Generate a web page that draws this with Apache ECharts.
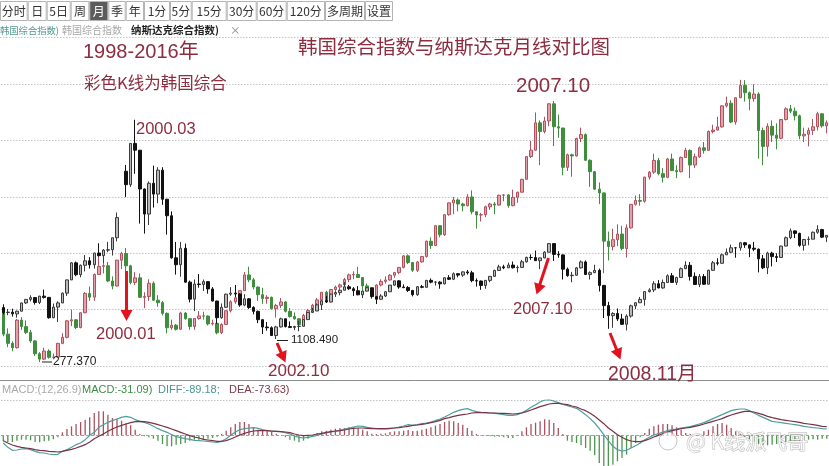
<!DOCTYPE html>
<html>
<head>
<meta charset="utf-8">
<script src="https://cdn.jsdelivr.net/npm/echarts@6/dist/echarts.min.js"></script>
<style>
html,body{margin:0;padding:0;background:#fff;}
#c{width:829px;height:466px;}
</style>
</head>
<body>
<div id="c"></div>
<script>
// ---------- data ----------
const months = [
'1997.10','1997.11','1997.12',
'1998.01','1998.02','1998.03','1998.04','1998.05','1998.06','1998.07','1998.08','1998.09','1998.10','1998.11','1998.12',
'1999.01','1999.02','1999.03','1999.04','1999.05','1999.06','1999.07','1999.08','1999.09','1999.10','1999.11','1999.12',
'2000.01','2000.02','2000.03','2000.04','2000.05','2000.06','2000.07','2000.08','2000.09','2000.10','2000.11','2000.12',
'2001.01','2001.02','2001.03','2001.04','2001.05','2001.06','2001.07','2001.08','2001.09','2001.10','2001.11','2001.12',
'2002.01','2002.02','2002.03','2002.04','2002.05','2002.06','2002.07','2002.08','2002.09','2002.10','2002.11','2002.12',
'2003.01','2003.02','2003.03','2003.04','2003.05','2003.06','2003.07','2003.08','2003.09','2003.10','2003.11','2003.12',
'2004.01','2004.02','2004.03','2004.04','2004.05','2004.06','2004.07','2004.08','2004.09','2004.10','2004.11','2004.12',
'2005.01','2005.02','2005.03','2005.04','2005.05','2005.06','2005.07','2005.08','2005.09','2005.10','2005.11','2005.12',
'2006.01','2006.02','2006.03','2006.04','2006.05','2006.06','2006.07','2006.08','2006.09','2006.10','2006.11','2006.12',
'2007.01','2007.02','2007.03','2007.04','2007.05','2007.06','2007.07','2007.08','2007.09','2007.10','2007.11','2007.12',
'2008.01','2008.02','2008.03','2008.04','2008.05','2008.06','2008.07','2008.08','2008.09','2008.10','2008.11','2008.12',
'2009.01','2009.02','2009.03','2009.04','2009.05','2009.06','2009.07','2009.08','2009.09','2009.10','2009.11','2009.12',
'2010.01','2010.02','2010.03','2010.04','2010.05','2010.06','2010.07','2010.08','2010.09','2010.10','2010.11','2010.12',
'2011.01','2011.02','2011.03','2011.04','2011.05','2011.06','2011.07','2011.08','2011.09','2011.10','2011.11','2011.12',
'2012.01','2012.02','2012.03','2012.04','2012.05','2012.06','2012.07','2012.08','2012.09','2012.10','2012.11'
];

// 韩国综合指数 monthly [open, close, low, high]
const korea = [
[640,470,455,650],[470,406,380,510],[406,376,351,420],
[376,567,370,575],[567,522,500,588],[522,482,470,565],[482,423,410,500],[423,334,320,430],[334,297,277,345],[297,353,290,375],[353,310,300,365],[310,311,295,335],[311,406,305,410],[406,448,400,476],[448,562,440,568],
[562,569,525,640],[569,516,505,575],[516,618,510,620],[618,752,615,760],[752,726,700,800],[726,883,700,890],[883,939,880,1052],[939,944,890,955],[944,838,830,970],[838,803,780,870],[803,982,800,985],[982,1028,920,1040],
[1028,943,890,1066],[943,828,815,950],[828,860,810,900],[860,725,720,890],[725,731,650,760],[731,822,700,850],[822,705,700,835],[705,688,660,740],[688,614,600,700],[614,514,475,620],[514,532,500,570],[532,504,495,540],
[504,616,500,625],[616,577,570,622],[577,523,500,580],[523,578,500,580],[578,596,570,630],[596,595,570,625],[595,541,530,600],[541,545,530,570],[545,480,468,550],[480,537,470,545],[537,632,535,635],[632,694,620,705],
[694,722,680,760],[722,771,690,775],[771,880,770,900],[880,846,830,937],[846,796,780,860],[796,743,700,800],[743,717,680,790],[717,725,680,740],[725,646,640,730],[646,669,584,680],[669,693,650,720],[693,628,620,700],
[628,592,585,650],[592,576,570,620],[576,535,512,580],[535,600,530,610],[600,634,590,645],[634,670,625,680],[670,707,660,720],[707,760,695,760],[760,697,690,770],[697,779,695,780],[779,796,750,805],[796,811,770,820],
[811,848,800,860],[848,880,830,890],[880,883,850,905],[883,862,860,936],[862,804,740,865],[804,785,770,820],[785,735,720,790],[735,810,730,815],[810,835,800,850],[835,845,820,870],[845,878,840,885],[878,896,860,900],
[896,932,885,935],[932,1012,925,1016],[1012,966,955,1022],[966,912,900,970],[912,970,900,975],[970,1008,965,1010],[1008,1113,1000,1118],[1113,1084,1060,1140],[1084,1221,1080,1222],[1221,1158,1140,1222],[1158,1297,1150,1300],[1297,1379,1290,1380],
[1379,1399,1300,1420],[1399,1371,1320,1410],[1371,1359,1320,1380],[1359,1420,1355,1440],[1420,1317,1300,1465],[1317,1295,1200,1320],[1295,1297,1250,1310],[1297,1352,1280,1360],[1352,1371,1330,1380],[1371,1364,1300,1385],[1364,1432,1360,1435],[1432,1434,1390,1440],
[1434,1360,1345,1440],[1360,1417,1355,1470],[1417,1453,1380,1456],[1453,1542,1450,1545],[1542,1700,1540,1702],[1700,1744,1690,1808],[1744,1933,1740,2005],[1933,1873,1640,1950],[1873,1946,1860,1975],[1946,2065,1910,2070],[2065,1906,1772,2085],[1906,1897,1830,1990],
[1897,1625,1570,1900],[1625,1712,1600,1720],[1712,1704,1560,1720],[1704,1825,1700,1830],[1825,1852,1800,1900],[1852,1674,1670,1860],[1674,1595,1490,1680],[1595,1474,1470,1600],[1474,1448,1370,1520],[1448,1114,892,1450],[1114,1077,980,1180],[1077,1124,1050,1200],
[1124,1163,1080,1230],[1163,1063,1050,1220],[1063,1206,1000,1230],[1206,1369,1200,1370],[1369,1396,1360,1430],[1396,1390,1360,1440],[1390,1557,1380,1560],[1557,1592,1540,1600],[1592,1673,1580,1720],[1673,1581,1570,1690],[1581,1556,1520,1620],[1556,1683,1550,1690],
[1683,1602,1600,1720],[1602,1595,1550,1640],[1595,1693,1590,1700],[1693,1742,1690,1760],[1742,1641,1550,1750],[1641,1698,1620,1720],[1698,1760,1690,1770],[1760,1743,1720,1800],[1743,1873,1740,1880],[1873,1883,1860,1920],[1883,1905,1880,1975],[1905,2051,1900,2055],
[2051,2069,2040,2115],[2069,1939,1930,2090],[1939,2107,1920,2110],[2107,2192,2105,2231],[2192,2142,2080,2229],[2142,2101,2020,2150],[2101,2133,2080,2200],[2133,1880,1685,2145],[1880,1770,1640,1900],[1770,1909,1700,1930],[1909,1848,1800,1950],[1848,1826,1750,1930],
[1826,1956,1820,1960],[1956,2030,1950,2040],[2030,2014,2000,2057],[2014,1982,1950,2040],[1982,1843,1820,1990],[1843,1854,1800,1900],[1854,1881,1770,1900],[1881,1906,1850,1960],[1906,1996,1880,2010],[1996,1912,1900,2000],[1912,1933,1860,1950]
];

// 纳斯达克综合指数 monthly [open, close, low, high]
const nasdaq = [
[1685,1594,1560,1745],[1594,1601,1545,1660],[1601,1570,1520,1665],
[1570,1619,1500,1630],[1619,1771,1615,1775],[1771,1835,1750,1840],[1835,1868,1800,1910],[1868,1779,1740,1880],[1779,1895,1750,1900],[1895,1872,1850,2015],[1872,1499,1480,1880],[1499,1694,1490,1760],[1694,1771,1420,1800],[1771,1950,1765,1960],[1950,2193,1900,2200],
[2193,2506,2190,2520],[2506,2288,2260,2530],[2288,2461,2240,2475],[2461,2543,2350,2650],[2543,2471,2400,2610],[2471,2686,2400,2690],[2686,2638,2620,2865],[2638,2739,2490,2760],[2739,2746,2700,2890],[2746,2966,2640,2970],[2966,3336,2900,3430],'-',
[4186,3940,3712,4303],[3940,4697,3900,4700],[4697,4573,4140,5132],[4573,3861,3227,4575],[3861,3401,3042,3870],[3401,3966,3200,4000],[3966,3767,3520,4290],[3767,4206,3600,4260],[4206,3673,3570,4260],[3673,3370,3025,3680],[3370,2598,2580,3450],[2598,2471,2290,2890],
[2471,2773,2250,2890],[2773,2152,2140,2860],[2152,1840,1780,2180],[1840,2116,1620,2200],[2116,2110,2050,2300],[2110,2161,1990,2200],[2161,2027,1940,2170],[2027,1805,1800,2060],[1805,1499,1387,1810],[1499,1690,1480,1760],[1690,1931,1680,1940],[1931,1950,1900,2060],
[1950,1934,1880,2100],[1934,1731,1700,1950],[1731,1845,1710,1930],[1845,1688,1660,1860],[1688,1616,1560,1710],[1616,1463,1400,1630],[1463,1328,1200,1470],[1328,1315,1260,1420],[1315,1172,1170,1340],[1172,1330,1108,1350],[1330,1479,1320,1500],[1479,1336,1320,1480],
[1336,1321,1310,1430],[1321,1338,1270,1350],[1338,1341,1250,1440],[1341,1464,1340,1470],[1464,1596,1460,1600],[1596,1623,1590,1680],[1623,1735,1620,1760],[1735,1810,1640,1815],[1810,1787,1770,1900],[1787,1932,1780,1940],[1932,1960,1880,1980],[1960,2003,1910,2010],
[2003,2066,2000,2155],[2066,2030,2010,2100],[2030,1994,1900,2060],[1994,1920,1910,2080],[1920,1987,1860,1990],[1987,2048,1980,2060],[2048,1887,1850,2050],[1887,1838,1750,1890],[1838,1897,1830,1930],[1897,1975,1880,1990],[1975,2097,1970,2100],[2097,2175,2080,2180],
[2175,2062,2030,2190],[2062,2052,2040,2110],[2052,1999,1970,2080],[1999,1922,1890,2010],[1922,2068,1900,2080],[2068,2057,2040,2100],[2057,2185,2050,2190],[2185,2152,2130,2220],[2152,2152,2090,2170],[2152,2120,2030,2170],[2120,2233,2110,2240],[2233,2205,2190,2280],
[2205,2306,2190,2330],[2306,2281,2240,2320],[2281,2340,2250,2350],[2340,2323,2290,2375],[2323,2179,2150,2360],[2179,2172,2070,2220],[2172,2091,2010,2180],[2091,2184,2030,2190],[2184,2258,2150,2260],[2258,2367,2250,2380],[2367,2432,2360,2470],[2432,2415,2390,2470],
[2415,2464,2410,2510],[2464,2416,2400,2530],[2416,2422,2330,2460],[2422,2525,2420,2560],[2525,2605,2510,2620],[2605,2603,2560,2660],[2603,2546,2540,2730],[2546,2596,2390,2600],[2596,2701,2590,2720],[2701,2859,2700,2861],[2859,2661,2540,2860],[2661,2652,2600,2720],
[2652,2390,2200,2660],[2390,2271,2250,2420],[2271,2279,2150,2340],[2279,2413,2270,2430],[2413,2523,2400,2550],[2523,2293,2290,2550],[2293,2326,2200,2350],[2326,2368,2320,2470],[2368,2092,1980,2400],[2092,1721,1493,2100],[1721,1536,1295,1790],[1536,1577,1314,1600],
[1577,1476,1440,1670],[1476,1378,1370,1570],[1378,1529,1265,1560],[1529,1717,1500,1740],[1717,1774,1660,1780],[1774,1835,1770,1880],[1835,1979,1720,1980],[1979,2009,1960,2040],[2009,2122,1970,2170],[2122,2045,2040,2190],[2045,2145,2030,2200],[2145,2269,2140,2295],
[2269,2147,2140,2320],[2147,2238,2100,2250],[2238,2398,2230,2420],[2398,2461,2390,2535],[2461,2257,2180,2520],[2257,2109,2100,2330],[2109,2255,2060,2300],[2255,2114,2100,2300],[2114,2369,2110,2380],[2369,2507,2360,2540],[2507,2498,2460,2590],[2498,2653,2490,2675],
[2653,2700,2650,2770],[2700,2782,2690,2840],[2782,2781,2600,2790],[2781,2874,2730,2890],[2874,2835,2780,2890],[2835,2774,2610,2840],[2774,2756,2720,2890],[2756,2579,2330,2770],[2579,2415,2390,2650],[2415,2684,2300,2710],[2684,2620,2440,2710],[2620,2605,2520,2680],
[2605,2814,2600,2820],[2814,2967,2810,2990],[2967,3092,2940,3135],[3092,3046,2960,3100],[3046,2827,2800,3060],[2827,2935,2730,2940],[2935,2940,2830,2990],[2940,3067,2940,3080],[3067,3116,3040,3196],[3116,2977,2960,3130],[2977,3010,2890,3015]
];

// MACD pane, values
const diff = [
-23,-36,-45,-44,-41,-40,-43,-48,-52,-53,-56,-58,-57,-48,-43,-36,-28,-23,-13,0,9,24,32,39,44,49,54,57,54,47,42,39,34,27,20,14,9,2,-4,-7,-10,-12,-15,-16,-17,-18,-20,-21,-18,-10,0,10,17,20,22,23,21,17,14,12,
12,11,8,4,-2,-6,-8,-6,-3,0,4,7,10,12,15,19,22,25,28,27,24,22,20,19,19,20,22,25,28,32,30,32,35,37,40,44,49,55,62,69,74,78,80,75,71,69,68,67,66,64,62,60,60,62,68,75,84,92,100,106,
107,103,98,93,89,85,81,72,62,50,37,20,2,-16,-33,-43,-47,-45,-38,-31,-23,-13,-6,1,5,10,14,17,19,22,24,26,30,34,38,44,50,56,62,68,74,77,79,79,74,67,60,54,48,42,40,38,36,34,32,30,27,25,23,22,20,19
];
const dea = [
-16,-23,-29,-33,-36,-38,-40,-43,-45,-46,-48,-49,-50,-48,-45,-42,-38,-33,-28,-20,-10,-3,4,12,19,25,30,34,38,41,42,41,39,36,32,28,24,19,14,9,4,-1,-5,-8,-12,-14,-16,-18,-18,-16,-11,-5,1,6,10,13,14,14,14,13,
12,11,10,8,4,1,-1,0,1,4,6,9,11,13,14,16,19,21,22,22,21,20,20,20,20,21,22,23,25,27,30,31,33,35,38,41,45,50,53,57,60,62,64,67,68,68,68,67,67,66,66,65,64,65,67,71,76,81,86,90,
94,96,96,94,92,88,85,79,74,66,57,46,35,22,12,2,-6,-13,-17,-19,-19,-16,-11,-5,0,5,10,14,17,20,22,24,27,30,34,38,42,46,50,56,61,65,69,72,72,70,66,62,57,53,50,47,45,43,41,39,36,34,32,30,27,26
];
const macd = [
-18,-20,-20,-16,-13,-13,-15,-20,-21,-18,-16,-12,-6,
9,19,27,34,40,47,54,67,72,72,62,52,50,44,37,30,17,4,
-3,-6,-10,-16,-26,-33,-33,-28,-26,-23,-16,-13,-13,-13,-10,-8,-4,
4,14,24,34,40,40,34,24,17,15,13,12,
5,0,
-6,-13,-16,-21,-16,-10,-3,
7,12,14,17,20,22,22,24,24,22,17,12,5,4,5,6,10,12,12,14,16,13,14,17,20,24,29,34,40,44,42,37,32,22,14,4,
-1,-1,-3,-4,-4,-6,-8,-8,-2,
12,24,34,38,42,48,
47,37,22,4,
-16,-20,-23,-30,-38,-46,-60,-83,-93,-93,-88,-78,-68,-58,-38,-23,-6,
7,20,27,32,34,34,30,24,17,7,4,0,4,12,17,27,34,37,32,22,12,4,
-6,-13,-20,-26,-30,-30,-28,-26,-23,-20,-18,-16,-16,-14,-13,-12,-13,-10,-10
];

const toolbarLabels = ['分时','日','5日','周','月','季','年','1分','5分','15分','30分','60分','120分','多周期','设置'];
const toolbarEdges  = [0,27.7,46.7,70.7,89.3,108.3,125.7,144,170,191.7,226.7,256.7,286.7,325,365,393];
const activeLabel = '月';

// ---------- styles ----------
const NUMF = '"Liberation Sans","Noto Sans CJK SC",sans-serif';
const CJKF = '"Noto Sans CJK SC",sans-serif';
const MAROON = '#8d2d40';
const ARROW = '#e0141e';

const graphics = [];
// toolbar
for (let i = 0; i < toolbarLabels.length; i++) {
  const x0 = toolbarEdges[i], x1 = toolbarEdges[i + 1];
  const on = toolbarLabels[i] === activeLabel;
  graphics.push({type:'rect', shape:{x:x0+0.5, y:1.5, width:x1-x0-1, height:19},
    style:{fill:on?'#5c5c5c':'#fff', stroke:'#b4b4b4', lineWidth:1}, silent:true});
  graphics.push({type:'text', style:{text:toolbarLabels[i], x:(x0+x1)/2, y:11.5, fill:on?'#fff':'#333',
    font:'12px '+CJKF, align:'center', verticalAlign:'middle'}, silent:true});
}
// tab row
const tabs = [
  {t:'韩国综合指数)', x:0, c:'#4f9a8e', w:'normal', s:9.3},
  {t:'韩国综合指数', x:62, c:'#a8a8a8', w:'normal', s:10},
  {t:'纳斯达克综合指数)', x:131, c:'#222', w:'bold', s:10.5},
  {t:'×', x:230, c:'#888', w:'normal', s:10.5}
];
tabs.forEach(o => graphics.push({type:'text', style:{text:o.t, x:o.x, y:30, fill:o.c,
  font:o.w+' '+o.s+'px '+CJKF, align:'left', verticalAlign:'middle'}, silent:true}));
graphics.push({type:'line', shape:{x1:0,y1:37.5,x2:829,y2:37.5}, style:{stroke:'#c4c4c4', lineWidth:1, lineDash:[1.5,1.5]}, silent:true});

// annotation texts
const notes = [
  {t:'1998-2016年', x:83, y:52, s:20, f:NUMF},
  {t:'彩色K线为韩国综合', x:84, y:83, s:16.5, f:CJKF},
  {t:'韩国综合指数与纳斯达克月线对比图', x:298, y:47, s:19.5, f:CJKF},
  {t:'2000.03', x:136, y:129, s:16.5, f:NUMF},
  {t:'2000.01', x:96, y:334, s:16.5, f:NUMF},
  {t:'2002.10', x:268, y:371, s:17, f:NUMF},
  {t:'2007.10', x:516, y:86, s:20.5, f:NUMF},
  {t:'2007.10', x:513, y:309, s:16.5, f:NUMF},
  {t:'2008.11月', x:608, y:375, s:19.5, f:NUMF}
];
notes.forEach(n => graphics.push({type:'text', z:20, style:{text:n.t, x:n.x, y:n.y, fill:MAROON,
  font:n.s+'px '+n.f, align:'left', verticalAlign:'middle'}, silent:true}));

// min labels
graphics.push({type:'line', z:20, shape:{x1:42,y1:362,x2:52,y2:362}, style:{stroke:'#222', lineWidth:1}, silent:true});
graphics.push({type:'text', z:20, style:{text:'277.370', x:53, y:362, fill:'#222', font:'12px '+NUMF, verticalAlign:'middle'}, silent:true});
graphics.push({type:'line', z:20, shape:{x1:277,y1:340.5,x2:288,y2:340.5}, style:{stroke:'#222', lineWidth:1}, silent:true});
graphics.push({type:'text', z:20, style:{text:'1108.490', x:291, y:340, fill:'#222', font:'11.5px '+NUMF, verticalAlign:'middle'}, silent:true});

// arrows
function arrow(x1, y1, x2, y2) {
  const dx = x2 - x1, dy = y2 - y1, L = Math.hypot(dx, dy);
  const ux = dx / L, uy = dy / L, px = -uy, py = ux;
  const hl = 11, hw = 6;
  const bx = x2 - ux * hl, by = y2 - uy * hl;
  graphics.push({type:'line', z:21, shape:{x1, y1, x2:bx + ux, y2:by + uy}, style:{stroke:ARROW, lineWidth:3}, silent:true});
  graphics.push({type:'polygon', z:21, shape:{points:[[x2, y2],[bx + px*hw, by + py*hw],[bx - px*hw, by - py*hw]]}, style:{fill:ARROW}, silent:true});
}
arrow(126.5, 271, 126.5, 321);
arrow(277, 343, 285.5, 362.5);
arrow(548.5, 258, 536.5, 294.5);
arrow(610, 333, 620.5, 359.5);

// separator & MACD text
graphics.push({type:'line', shape:{x1:0,y1:380.5,x2:829,y2:380.5}, style:{stroke:'#8c8c8c', lineWidth:1}, silent:true});
const macdTexts = [
  {t:'MACD:(12,26.9)', x:2, c:'#a9a9a9'},
  {t:'MACD:-31.09)', x:82, c:'#3f8c46'},
  {t:'DIFF:-89.18;', x:158, c:'#4a9595'},
  {t:'DEA:-73.63)', x:229, c:'#7c3a4b'}
];
macdTexts.forEach(o => graphics.push({type:'text', style:{text:o.t, x:o.x, y:390, fill:o.c,
  font:'11px '+NUMF, verticalAlign:'middle'}, silent:true}));

// watermark
graphics.push({type:'text', z:30, style:{text:'@ K线派飞哥', x:686, y:441, fill:'rgba(255,255,255,0.8)',
  stroke:'rgba(130,130,130,0.55)', lineWidth:1, font:'21px '+CJKF, verticalAlign:'middle'}, silent:true});
graphics.push({type:'circle', z:30, shape:{cx:668, cy:441, r:9}, style:{fill:'rgba(255,255,255,0.6)', stroke:'rgba(140,140,140,0.5)', lineWidth:1}, silent:true});

// ---------- chart ----------
const chart = echarts.init(document.getElementById('c'), null, {renderer:'canvas'});
chart.setOption({
  animation:false,
  backgroundColor:'#fff',
  grid:[
    {left:1, right:0, top:28, height:338},
    {left:1, right:0, top:400, height:66}
  ],
  xAxis:[
    {type:'category', gridIndex:0, data:months, show:false},
    {type:'category', gridIndex:1, data:months, show:false}
  ],
  yAxis:[
    {type:'value', gridIndex:0, min:249.3, max:2590, show:false},
    {type:'value', gridIndex:0, min:613, max:6815, show:false},
    {type:'value', gridIndex:0, min:0, max:6, interval:1, axisLabel:{show:false}, axisLine:{show:false}, axisTick:{show:false},
      splitLine:{show:true, showMaxLine:false, lineStyle:{color:'#c2c2c2', type:[1.5,1.5], width:1}}},
    {type:'value', gridIndex:1, min:-92, max:106, show:false}
  ],
  series:[
    {name:'韩国综合指数', type:'candlestick', xAxisIndex:0, yAxisIndex:0, data:korea, barWidth:3, z:3,
      itemStyle:{color:'#dfa2aa', color0:'#3e8e3e', borderColor:'#b3505e', borderColor0:'#3e8e3e', borderWidth:1}},
    {name:'纳斯达克综合指数', type:'candlestick', xAxisIndex:0, yAxisIndex:1, data:nasdaq, barWidth:3, z:4,
      itemStyle:{color:'#b9b9b9', color0:'#111', borderColor:'#3a3a3a', borderColor0:'#111', borderWidth:1}},
    {name:'MACD', type:'bar', xAxisIndex:1, yAxisIndex:3, data:macd, barWidth:1.3,
      itemStyle:{color:p => p.value >= 0 ? '#a8525e' : '#4f944f'},
      markLine:{silent:true, symbol:'none', label:{show:false},
        data:[{yAxis:0, lineStyle:{color:'#a0a0a0', type:[3,2], width:1}},
              {yAxis:106, lineStyle:{color:'#c2c2c2', type:[1.5,1.5], width:1}}]}},
    {name:'DIFF', type:'line', xAxisIndex:1, yAxisIndex:3, data:diff, symbol:'none', smooth:false,
      lineStyle:{color:'#4f9e9e', width:1.2}, z:5},
    {name:'DEA', type:'line', xAxisIndex:1, yAxisIndex:3, data:dea, symbol:'none',
      lineStyle:{color:'#7a3346', width:1.2}, z:5}
  ],
  graphic:graphics
});
</script>
</body>
</html>
